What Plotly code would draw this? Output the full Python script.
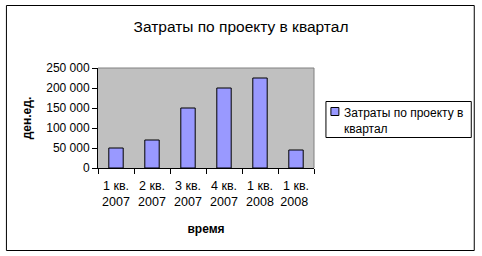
import plotly.graph_objects as go

categories = ["1 кв.<br>2007", "2 кв.<br>2007", "3 кв.<br>2007", "4 кв.<br>2007", "1 кв.<br>2008", "1 кв.<br>2008 "]
values = [50000, 70000, 150000, 200000, 225000, 45000]
series_name = "Затраты по проекту в<br>квартал"
title_text = "Затраты по проекту в квартал"
y_title = "ден.ед."
x_title = "время"
bar_color = "#9999FF"

W, H = 482, 256
L, R, T, B = 97.5, 314.5, 68, 168
pw, ph = R - L, B - T

def px(x):
    return (x - L) / pw

def py(y):
    return (B - y) / ph

fig = go.Figure()
fig.add_trace(go.Bar(
    x=categories, y=values, name=series_name,
    marker=dict(color=bar_color, line=dict(color="black", width=1)),
    showlegend=False,
))

font = "Liberation Sans, Arial, sans-serif"
fig.update_layout(
    width=W, height=H,
    margin=dict(l=L, r=W - R, t=T, b=H - B, pad=0, autoexpand=False),
    paper_bgcolor="white",
    plot_bgcolor="#C0C0C0",
    bargap=0.6,
    separators=", ",
    font=dict(family=font, size=12, color="black"),
    title=dict(text=title_text, x=0.5, xref="container", xanchor="center",
               y=1 - 27 / H, yref="container", yanchor="middle",
               font=dict(size=15.5, family=font)),
    xaxis=dict(
        type="category", showgrid=False, showline=True, linecolor="black", linewidth=1,
        ticks="outside", ticklen=5, tickcolor="black", tickson="boundaries",
        tickfont=dict(size=12.5), tickangle=0, automargin=False, ticklabelstandoff=6,
        title=dict(text="<b>" + x_title + "</b>", font=dict(size=12), standoff=16),
    ),
    yaxis=dict(
        range=[0, 250000], dtick=50000, tickformat=",d", showgrid=False,
        showline=True, linecolor="black", linewidth=1, automargin=False,
        ticks="outside", ticklen=5, tickcolor="black", tickfont=dict(size=12),
        title=dict(text="<b>" + y_title + "</b>", font=dict(size=12), standoff=12),
        zeroline=False,
    ),
    shapes=[
        dict(type="rect", xref="paper", yref="paper",
             x0=px(5.5), x1=px(475.5), y0=py(250.5), y1=py(5.5),
             line=dict(color="black", width=1), fillcolor="rgba(0,0,0,0)", layer="below"),
        dict(type="line", xref="paper", yref="paper", x0=0, x1=1, y0=1, y1=1,
             line=dict(color="#808080", width=1)),
        dict(type="line", xref="paper", yref="paper", x0=1, x1=1, y0=0, y1=1,
             line=dict(color="#808080", width=1)),
        # legend box
        dict(type="rect", xref="paper", yref="paper",
             x0=px(326.5), x1=px(472.5), y0=py(137.5), y1=py(101.5),
             line=dict(color="black", width=1), fillcolor="white"),
        # legend swatch
        dict(type="rect", xref="paper", yref="paper",
             x0=px(331.5), x1=px(339.5), y0=py(115.5), y1=py(107.5),
             line=dict(color="black", width=1), fillcolor=bar_color),
    ],
    annotations=[
        dict(text=series_name, xref="paper", yref="paper",
             x=px(343), y=py(104), xanchor="left", yanchor="top",
             align="left", showarrow=False, font=dict(size=12)),
    ],
)

fig.write_html("out.html", config={"displayModeBar": False, "staticPlot": True},
               post_script="document.body.style.margin='0';document.body.style.overflow='hidden';")
